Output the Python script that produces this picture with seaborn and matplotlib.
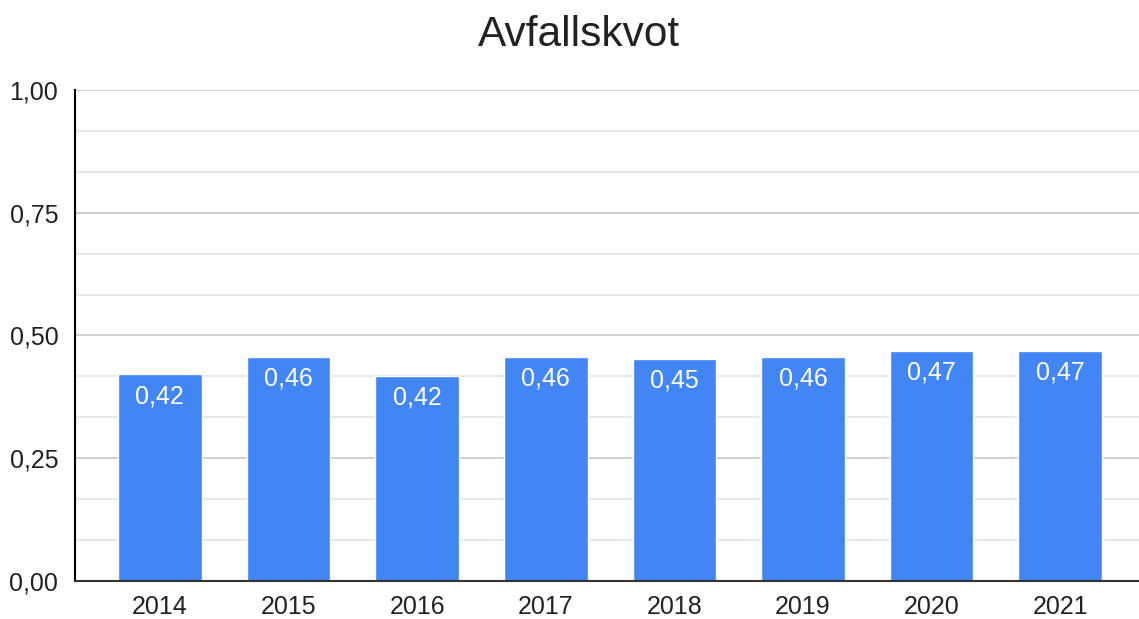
import matplotlib
matplotlib.use("Agg")
import matplotlib.pyplot as plt
import seaborn as sns
import pandas as pd
from matplotlib.ticker import FixedLocator, FuncFormatter

years = ["2014", "2015", "2016", "2017", "2018", "2019", "2020", "2021"]
kvot = [0.422, 0.457, 0.418, 0.457, 0.453, 0.457, 0.469, 0.469]

df = pd.DataFrame({"year": years, "kvot": kvot})

sns.set_style("white")
plt.rcParams["font.family"] = ["Liberation Sans", "DejaVu Sans"]

fig = plt.figure(figsize=(11.39, 6.19), dpi=100)
ax = fig.add_axes([0.0658, 0.0614, 0.934, 0.7932])

sns.barplot(
    data=df,
    x="year",
    y="kvot",
    color="#4285f4",
    saturation=1,
    width=0.65,
    ax=ax,
    zorder=3
)

major = [0, 0.25, 0.5, 0.75, 1.0]
minor = [m + k * 0.25 / 3 for m in major[:-1] for k in (1, 2)]

ax.set_ylim(0, 1.0)
ax.set_xlim(-0.66, 7.61)
ax.yaxis.set_major_locator(FixedLocator(major))
ax.yaxis.set_minor_locator(FixedLocator(minor))
ax.yaxis.set_major_formatter(
    FuncFormatter(lambda v, p: f"{v:.2f}".replace(".", ","))
)
ax.grid(axis="y", which="major", color="#cccccc", linewidth=1.3, zorder=0)
ax.grid(axis="y", which="minor", color="#e6e6e6", linewidth=1.3, zorder=0)
ax.set_axisbelow(True)

for side in ["top", "right"]:
    ax.spines[side].set_visible(False)
ax.spines["left"].set_color("#000000")
ax.spines["left"].set_linewidth(1.5)
ax.spines["bottom"].set_color("#333333")
ax.spines["bottom"].set_linewidth(1.5)
ax.spines["bottom"].set_zorder(4)

ax.tick_params(axis="both", which="both", length=0, labelsize=18,
               labelcolor="#222222")
ax.tick_params(axis="x", pad=10)
ax.tick_params(axis="y", pad=12)
ax.set_xlabel("")
ax.set_ylabel("")

for i, v in enumerate(kvot):
    ax.annotate(
        f"{v:.2f}".replace(".", ","),
        (i, v),
        xytext=(0, -16),
        textcoords="offset points",
        ha="center",
        va="center",
        color="white",
        fontsize=18,
        zorder=5
    )

fig.suptitle("Avfallskvot", x=0.508, y=0.975, va="top", fontsize=30.5,
             color="#222222")

plt.savefig("out.png", dpi=100)
plt.close()
